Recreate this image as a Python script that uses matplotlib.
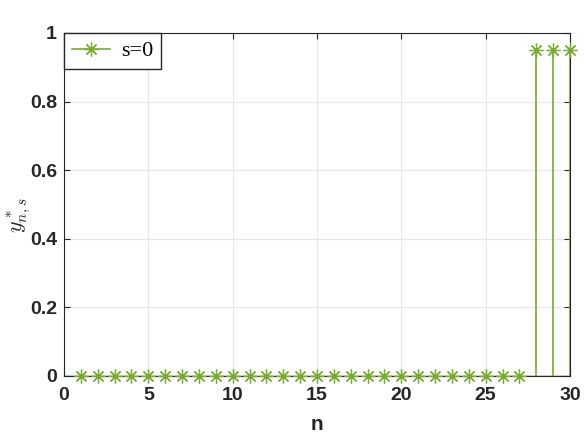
import numpy as np
import matplotlib
matplotlib.use("Agg")
import matplotlib.pyplot as plt

plt.rcParams['mathtext.fontset'] = 'cm'
plt.rcParams['font.family'] = ['Liberation Sans', 'DejaVu Sans']

#stem values y*_{n,s} for s=0
n = np.arange(1, 31)
y = np.array([0.0]*27 + [0.95, 0.95, 0.95])

green = '#77AC30'
star = (8, 2, 0)

fig = plt.figure(figsize=(5.84, 4.38), dpi=100)
ax = fig.add_axes([0.1096, 0.1416, 0.8664, 0.7831])

ax.vlines(n, 0, y, color=green, lw=1.2)
ax.plot(n, y, ls='none', marker=star, ms=10, mec=green, mew=0.9, color=green,
        clip_on=False, zorder=5)
ax.axhline(0, color='#262626', lw=1.0, zorder=1)

#legend handle: line with marker
ax.plot([], [], color=green, marker=star, ms=10, mew=0.9, lw=1.2, label='s=0')
leg = ax.legend(loc='upper left', borderaxespad=0, fancybox=False, framealpha=1,
                edgecolor='#262626', handlelength=1.7, borderpad=0.35,
                handletextpad=0.5, prop={'family': 'Liberation Serif', 'size': 16})

ax.set_xlim(0, 30)
ax.set_ylim(0, 1)
ax.set_xticks([0, 5, 10, 15, 20, 25, 30])
ax.set_yticks([0, 0.2, 0.4, 0.6, 0.8, 1])
ax.set_yticklabels(['0', '0.2', '0.4', '0.6', '0.8', '1'])
ax.grid(True, color='#e6e6e6', lw=0.8)
ax.set_axisbelow(True)
ax.tick_params(direction='in', top=True, right=True, length=4, width=0.8,
               colors='#262626', labelsize=14)
ax.tick_params(axis='x', pad=8)
ax.tick_params(axis='y', pad=5)
for lab in ax.get_xticklabels() + ax.get_yticklabels():
    lab.set_fontweight('bold')
for s in ax.spines.values():
    s.set_color('#262626')
    s.set_linewidth(0.8)

ax.set_xlabel('n', fontsize=15, fontweight='bold', color='#262626')
ax.xaxis.set_label_coords(0.5, -0.115)
ax.set_ylabel(r'$y^*_{n,s}$', fontsize=16, color='#262626')
ax.yaxis.set_label_coords(-0.062, 0.47)

fig.savefig('out.png', dpi=100)
